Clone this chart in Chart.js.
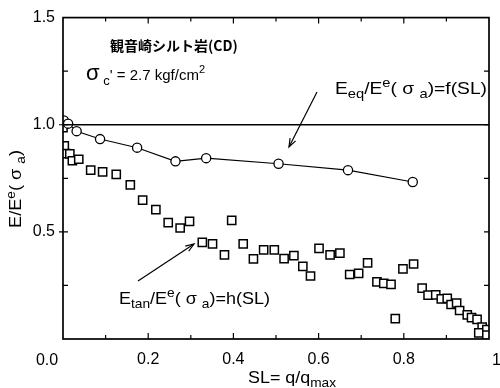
<!DOCTYPE html>
<html>
<head>
<meta charset="utf-8">
<script src="https://cdn.jsdelivr.net/npm/chart.js@4"></script>
<style>
html,body{margin:0;padding:0;background:#fff;}
#wrap{width:500px;height:388px;position:relative;}
</style>
</head>
<body>
<div id="wrap"><canvas id="c" width="500" height="388"></canvas></div>
<script>
// ---- data ----
const eqSL    = [0.002, 0.012, 0.032, 0.087, 0.174, 0.264, 0.336, 0.506, 0.669, 0.821];
const eqRatio = [1.020, 1.005, 0.970, 0.933, 0.893, 0.829, 0.844, 0.818, 0.788, 0.733];

const tanSL = [0.000,0.003,0.007,0.016,0.022,0.037,0.065,0.093,0.125,0.158,0.187,0.218,0.247,0.275,0.297,0.327,0.351,0.379,0.396,0.423,0.447,0.471,0.496,0.519,0.542,0.563,0.581,0.601,0.627,0.650,0.673,0.694,0.715,0.737,0.753,0.770,0.780,0.798,0.823,0.843,0.857,0.875,0.888,0.902,0.911,0.924,0.931,0.949,0.959,0.972,0.984,0.976,0.995,0.995];
const tanRatio = [0.986,0.902,0.865,0.864,0.832,0.839,0.788,0.780,0.768,0.719,0.648,0.604,0.543,0.518,0.549,0.451,0.444,0.393,0.554,0.444,0.374,0.416,0.416,0.375,0.389,0.339,0.294,0.423,0.393,0.401,0.301,0.306,0.355,0.267,0.260,0.255,0.095,0.327,0.350,0.237,0.205,0.206,0.187,0.190,0.161,0.168,0.133,0.113,0.100,0.092,0.056,0.029,0.044,0.018];

const refSL = [0, 1];
const refRatio = [1.0, 1.0];

const xTickLabels = ['0.2', '0.4', '0.6', '0.8'];
const yTickLabels = ['0.5', '1.0', '1.5'];

const titleText = '観音崎シルト岩(CD)';

// ---- helpers ----
const F = "'Liberation Sans', Arial, sans-serif";
// draws a run of text pieces (sub/superscripts) starting at x, stretched to targetW
function drawRich(ctx, x, y, runs, targetW) {
  let w = 0;
  runs.forEach(r => { ctx.font = r.font; w += ctx.measureText(r.t).width; });
  let sx = targetW ? Math.max(0.8, Math.min(1.35, targetW / w)) : 1;
  ctx.save();
  ctx.translate(x, y);
  ctx.scale(sx, 1);
  ctx.textBaseline = 'alphabetic';
  ctx.textAlign = 'left';
  let cx = 0;
  runs.forEach(r => {
    ctx.font = r.font;
    ctx.fillText(r.t, cx, (r.dy || 0));
    cx += ctx.measureText(r.t).width;
  });
  ctx.restore();
  return w * sx;
}
function arrow(ctx, x1, y1, x2, y2) {
  ctx.beginPath(); ctx.moveTo(x1, y1); ctx.lineTo(x2, y2); ctx.stroke();
  const a = Math.atan2(y2 - y1, x2 - x1), L = 9, s = 0.35;
  ctx.beginPath();
  ctx.moveTo(x2 - L * Math.cos(a - s), y2 - L * Math.sin(a - s));
  ctx.lineTo(x2, y2);
  ctx.lineTo(x2 - L * Math.cos(a + s), y2 - L * Math.sin(a + s));
  ctx.stroke();
}

const decor = {
  id: 'decor',
  afterDatasetsDraw(chart) {
    const ctx = chart.ctx, xs = chart.scales.x, ys = chart.scales.y, ca = chart.chartArea;
    ctx.save();
    ctx.strokeStyle = '#000'; ctx.fillStyle = '#000';
    // frame
    ctx.lineWidth = 1.7;
    ctx.strokeRect(ca.left, ca.top, ca.right - ca.left, ca.bottom - ca.top);
    // x ticks (bottom & top, inward)
    ctx.lineWidth = 1.2;
    for (let i = 1; i < 10; i++) {
      const v = i / 10, px = xs.getPixelForValue(v), len = (i % 2 === 0) ? 6 : 4;
      ctx.beginPath();
      ctx.moveTo(px, ca.bottom); ctx.lineTo(px, ca.bottom - len);
      ctx.moveTo(px, ca.top); ctx.lineTo(px, ca.top + len);
      ctx.stroke();
    }
    // y ticks (left & right, inward)
    for (let i = 1; i < 6; i++) {
      const v = i * 0.25, py = ys.getPixelForValue(v);
      const major = (i % 2 === 0);
      ctx.beginPath();
      ctx.moveTo(ca.left - (major ? 4 : 0), py); ctx.lineTo(ca.left + 5, py);
      ctx.moveTo(ca.right, py); ctx.lineTo(ca.right - 5, py);
      ctx.stroke();
    }
    // corner labels
    ctx.font = '16px ' + F; ctx.textBaseline = 'alphabetic';
    ctx.textAlign = 'center';
    ctx.fillText('0.0', ca.left - 16, 365);
    ctx.textAlign = 'left';
    ctx.fillText('1.0', 492, 365);

    // annotations
    ctx.font = "bold 14px 'Noto Sans CJK JP', sans-serif";
    ctx.textAlign = 'left';
    ctx.fillText(titleText, 110, 51);

    drawRich(ctx, 86, 80, [
      {t: 'σ', font: '22px ' + F},
      {t: ' c', font: '13px ' + F, dy: 5},
      {t: "' = 2.7 kgf/cm", font: '15px ' + F},
      {t: '2', font: '11px ' + F, dy: -7}
    ], 119);

    drawRich(ctx, 335, 94, [
      {t: 'E', font: '17px ' + F},
      {t: 'eq', font: '13px ' + F, dy: 4},
      {t: '/E', font: '17px ' + F},
      {t: 'e', font: '13px ' + F, dy: -7},
      {t: '( σ ', font: '17px ' + F},
      {t: 'a', font: '13px ' + F, dy: 4},
      {t: ')=f(SL)', font: '17px ' + F}
    ], 152);

    drawRich(ctx, 119, 304, [
      {t: 'E', font: '17px ' + F},
      {t: 'tan', font: '13px ' + F, dy: 4},
      {t: '/E', font: '17px ' + F},
      {t: 'e', font: '13px ' + F, dy: -7},
      {t: '( σ ', font: '17px ' + F},
      {t: 'a', font: '13px ' + F, dy: 4},
      {t: ')=h(SL)', font: '17px ' + F}
    ], 151);

    ctx.lineWidth = 1.2;
    arrow(ctx, 317, 92, 289, 147);
    arrow(ctx, 138, 281, 194, 244);

    // axis titles
    drawRich(ctx, 248, 383, [
      {t: 'SL= q/q', font: '17px ' + F},
      {t: 'max', font: '13px ' + F, dy: 4}
    ], 88);

    ctx.translate(21, 228);
    ctx.rotate(-Math.PI / 2);
    drawRich(ctx, 0, 0, [
      {t: 'E/E', font: '16px ' + F},
      {t: 'e', font: '12px ' + F, dy: -6},
      {t: '( σ ', font: '16px ' + F},
      {t: 'a', font: '12px ' + F, dy: 4},
      {t: ')', font: '16px ' + F}
    ], 78);
    ctx.restore();
  }
};

const toPts = (xs, ys) => xs.map((x, i) => ({x, y: ys[i]}));

new Chart(document.getElementById('c'), {
  type: 'scatter',
  data: {
    datasets: [
      {
        label: 'ref',
        data: toPts(refSL, refRatio),
        showLine: true, borderColor: '#000', borderWidth: 1.4, pointRadius: 0
      },
      {
        label: 'Eeq',
        data: toPts(eqSL, eqRatio),
        showLine: true, borderColor: '#000', borderWidth: 1.1,
        pointStyle: 'circle', pointRadius: 4.6,
        pointBackgroundColor: '#fff', pointBorderColor: '#000', pointBorderWidth: 1.3
      },
      {
        label: 'Etan',
        data: toPts(tanSL, tanRatio),
        showLine: false,
        pointStyle: 'rect', pointRadius: 5.8,
        pointBackgroundColor: '#fff', pointBorderColor: '#000', pointBorderWidth: 1.5
      }
    ]
  },
  options: {
    responsive: false,
    animation: false,
    devicePixelRatio: 1,
    layout: {padding: {top: 12, right: 3, left: 0, bottom: 0}},
    plugins: {legend: {display: false}, tooltip: {enabled: false}},
    scales: {
      x: {
        type: 'linear', min: 0, max: 1,
        grid: {display: false, drawTicks: false},
        border: {display: false},
        ticks: {
          stepSize: 0.2, padding: 11, color: '#000', maxRotation: 0,
          font: {family: F, size: 16},
          callback: v => { const s = v.toFixed(1); return xTickLabels.includes(s) ? s : ''; }
        },
        afterFit: s => { s.height = 49; }
      },
      y: {
        type: 'linear', min: 0, max: 1.5,
        grid: {display: false, drawTicks: false},
        border: {display: false},
        ticks: {
          stepSize: 0.5, padding: 8, color: '#000',
          font: {family: F, size: 16},
          callback: v => { const s = v.toFixed(1); return yTickLabels.includes(s) ? s : ''; }
        },
        afterFit: s => { s.width = 63; }
      }
    }
  },
  plugins: [decor]
});
</script>
</body>
</html>
